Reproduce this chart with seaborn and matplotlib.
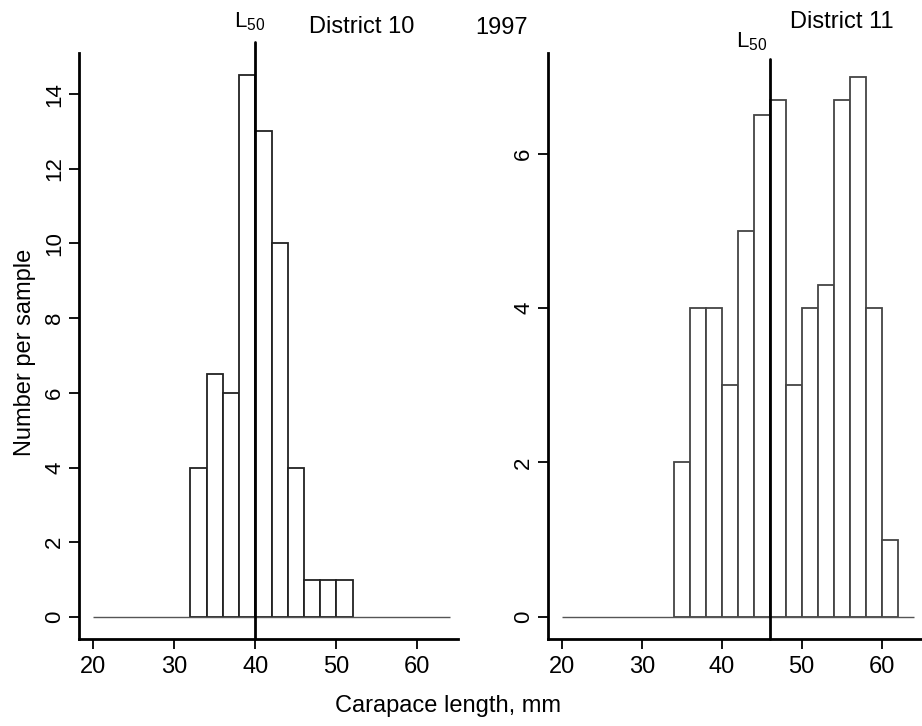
import pandas as pd
import matplotlib
matplotlib.use("Agg")
import matplotlib.pyplot as plt
import seaborn as sns

# Carapace length bins (mm) and number per sample, 1997
bin_edges_d10 = [32, 34, 36, 38, 40, 42, 44, 46, 48, 50, 52]
counts_d10 = [4, 6.5, 6, 14.5, 13, 10, 4, 1, 1, 1]
bin_edges_d11 = [34, 36, 38, 40, 42, 44, 46, 48, 50, 52, 54, 56, 58, 60, 62]
counts_d11 = [2, 4, 4, 3, 5, 6.5, 6.7, 3, 4, 4.3, 6.7, 7, 4, 1]
l50_d10 = 40
l50_d11 = 46
x_ticks = [20, 30, 40, 50, 60]
y_ticks_d10 = [0, 2, 4, 6, 8, 10, 12, 14]
y_ticks_d11 = [0, 2, 4, 6]

sns.set_style("ticks")
plt.rcParams["font.family"] = ["Liberation Sans", "DejaVu Sans"]
plt.rcParams["mathtext.fontset"] = "custom"
plt.rcParams["mathtext.rm"] = "Liberation Sans"
for key in ("text.color", "axes.labelcolor", "xtick.color", "ytick.color"):
    plt.rcParams[key] = "black"

fig = plt.figure(figsize=(9.22, 7.26), dpi=100)
ax1 = fig.add_axes([0.0857, 0.1198, 0.4110, 0.8072])
ax2 = fig.add_axes([0.5944, 0.1198, 0.4051, 0.8072])


def draw_panel(ax, edges, counts, l50, yticks, ylim, line_top, edge_col):
    centers = [(a + b) / 2.0 for a, b in zip(edges[:-1], edges[1:])]
    df = pd.DataFrame({"length": centers, "n": counts})
    sns.histplot(data=df, x="length", weights="n", bins=list(edges), ax=ax,
                 color="white", edgecolor=edge_col, linewidth=1.3, alpha=1)
    ax.hlines(0, 20, 64, color="#555555", linewidth=1.0, zorder=1)
    ax.plot([l50, l50], [ylim[0], line_top], color="black", linewidth=2,
            clip_on=False, zorder=5)
    ax.set_xlim(18.25, 65.0)
    ax.set_ylim(*ylim)
    ax.set_xticks(x_ticks)
    ax.set_yticks(yticks)
    ax.set_xlabel("")
    ax.set_ylabel("")
    ax.tick_params(axis="x", direction="out", length=7, width=1.3, labelsize=17, pad=5)
    ax.tick_params(axis="y", direction="out", length=7, width=1.3, labelsize=16,
                   labelrotation=90, pad=3)
    for lab in ax.get_yticklabels():
        lab.set_verticalalignment("center")
    for side in ("top", "right"):
        ax.spines[side].set_visible(False)
    for side in ("left", "bottom"):
        ax.spines[side].set_linewidth(2)
        ax.spines[side].set_color("black")


draw_panel(ax1, bin_edges_d10, counts_d10, l50_d10, y_ticks_d10, (-0.59, 15.1), 15.4, "#222222")
draw_panel(ax2, bin_edges_d11, counts_d11, l50_d11, y_ticks_d11, (-0.29, 7.31), 7.23, "#444444")

fig.text(250 / 922, 1 - 22 / 726, r"L$_{\mathrm{50}}$", fontsize=16, ha="center", va="center")
fig.text(752 / 922, 1 - 42 / 726, r"L$_{\mathrm{50}}$", fontsize=16, ha="center", va="center")
fig.text(362 / 922, 1 - 27 / 726, "District 10", fontsize=17, ha="center", va="center")
fig.text(502 / 922, 1 - 28 / 726, "1997", fontsize=17, ha="center", va="center")
fig.text(842 / 922, 1 - 22 / 726, "District 11", fontsize=17, ha="center", va="center")
fig.text(448 / 922, 1 - 706 / 726, "Carapace length, mm", fontsize=17, ha="center", va="center")
fig.text(25 / 922, 1 - 352 / 726, "Number per sample", fontsize=17, ha="center", va="center",
         rotation=90)

fig.savefig("out.png", dpi=100, facecolor="white")
plt.close(fig)
